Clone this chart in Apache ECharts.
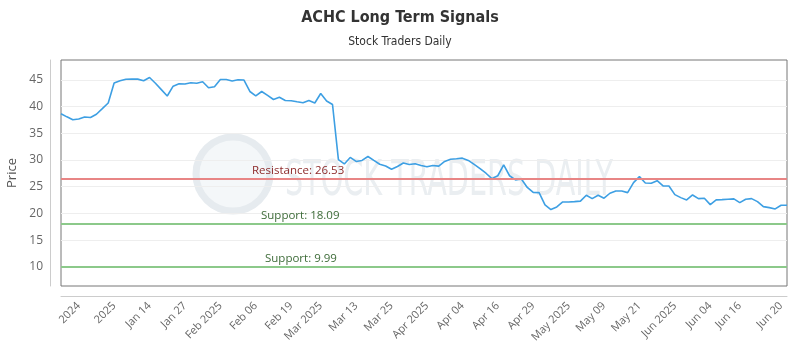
<!DOCTYPE html>
<html lang="en">
<head>
    <meta charset="UTF-8">
    <title>ACHC Long Term Signals</title>
    <script src="https://cdn.jsdelivr.net/npm/echarts@6/dist/echarts.min.js"></script>
    <style>
        html, body { margin: 0; padding: 0; background: #fff; }
        #main { width: 800px; height: 350px; }
    </style>
</head>
<body>
<div id="main"></div>
<script type="text/javascript">
  // daily closes
  var prices = [38.69, 38.10, 37.55, 37.70, 38.07, 37.98, 38.58, 39.63, 40.70, 44.44,
    44.87, 45.15, 45.17, 45.17, 44.87, 45.47, 44.40, 43.20, 42.00, 43.84,
    44.31, 44.25, 44.49, 44.40, 44.68, 43.54, 43.75, 45.09, 45.09, 44.81,
    45.04, 45.00, 42.85, 42.04, 42.85, 42.12, 41.35, 41.76, 41.16, 41.12,
    40.92, 40.73, 41.16, 40.69, 42.47, 41.07, 40.41, 30.09, 29.27, 30.49,
    29.74, 29.93, 30.66, 29.93, 29.21, 28.90, 28.28, 28.80, 29.46, 29.18,
    29.31, 28.99, 28.75, 28.99, 28.86, 29.74, 30.15, 30.24, 30.36, 29.93,
    29.18, 28.39, 27.53, 26.52, 27.06, 29.08, 27.06, 26.27, 26.46, 24.87,
    23.93, 23.90, 21.59, 20.73, 21.22, 22.15, 22.15, 22.21, 22.30, 23.41,
    22.77, 23.41, 22.85, 23.78, 24.21, 24.21, 23.90, 25.77, 26.89, 25.71,
    25.66, 26.14, 25.15, 25.15, 23.52, 22.96, 22.53, 23.46, 22.77, 22.85,
    21.65, 22.53, 22.58, 22.66, 22.72, 22.02, 22.66, 22.77, 22.21, 21.27,
    21.09, 20.84, 21.54, 21.54];

  var tickLabels = ['2024', '2025', 'Jan 14', 'Jan 27', 'Feb 2025', 'Feb 06', 'Feb 19', 'Mar 2025', 'Mar 13', 'Mar 25',
    'Apr 2025', 'Apr 04', 'Apr 16', 'Apr 29', 'May 2025', 'May 09', 'May 21', 'Jun 2025', 'Jun 04', 'Jun 16', 'Jun 20'];
  var tickIndex = [3, 9, 15, 21, 27, 33, 39, 44, 50, 56, 62, 68, 74, 80, 86, 92, 98, 104, 110, 115, 122];

  var yTicks = [10, 15, 20, 25, 30, 35, 40, 45];

  var resistance = 26.53;
  var supports = [18.09, 9.99];

  // category list: empty except where a tick label sits
  var cats = prices.map(function () { return ''; });
  tickIndex.forEach(function (idx, i) { cats[idx] = tickLabels[i]; });

  var lineFont = 'Open Sans';
  var condFont = "'DejaVu Sans Condensed', 'Liberation Sans Narrow', sans-serif";

  var marks = [{
    yAxis: resistance,
    lineStyle: {color: '#e88585', width: 2, type: 'solid'},
    label: {formatter: 'Resistance: ' + resistance, color: '#8e2b2b', padding: [0, 0, 0, 189]}
  }, {
    yAxis: supports[0],
    lineStyle: {color: '#8cc98a', width: 2, type: 'solid'},
    label: {formatter: 'Support: ' + supports[0], color: '#3d6b38', padding: [0, 0, 0, 198]}
  }, {
    yAxis: supports[1],
    lineStyle: {color: '#8cc98a', width: 2, type: 'solid'},
    label: {formatter: 'Support: ' + supports[1], color: '#3d6b38', padding: [0, 0, 0, 202]}
  }];

  var myChart = echarts.init(document.getElementById('main'));
  var option = {
    backgroundColor: '#fff',
    animation: false,
    title: {
      text: 'ACHC Long Term Signals',
      subtext: 'Stock Traders Daily',
      left: 'center',
      top: 5,
      itemGap: 10,
      textStyle: {fontFamily: condFont, fontWeight: 'bold', fontSize: 16, color: '#333'},
      subtextStyle: {fontFamily: condFont, fontSize: 12, color: '#333'}
    },
    graphic: [
      {
        type: 'circle',
        z: 0,
        shape: {cx: 233, cy: 174, r: 37},
        style: {fill: '#f4f7f9', stroke: '#e6ebef', lineWidth: 7}
      },
      {
        type: 'text',
        z: 0,
        x: 285,
        y: 158,
        scaleX: 0.65,
        style: {
          text: 'STOCK TRADERS DAILY',
          font: '49px ' + condFont,
          fill: '#eaeef1'
        }
      }
    ],
    grid: {
      left: 61,
      right: 13,
      top: 60,
      bottom: 64,
      containLabel: false,
      outerBoundsMode: 'none',
      show: true,
      borderColor: '#777',
      borderWidth: 1
    },
    xAxis: {
      type: 'category',
      data: cats,
      boundaryGap: false,
      offset: 10,
      axisLine: {lineStyle: {color: '#ccc'}},
      axisTick: {show: false},
      splitLine: {show: false},
      axisLabel: {
        interval: function (i, v) { return v !== ''; },
        rotate: 45,
        margin: 8,
        color: '#666',
        fontFamily: lineFont,
        fontSize: 11
      }
    },
    yAxis: {
      type: 'value',
      min: 6.4,
      max: 48.75,
      offset: 11,
      name: 'Price',
      nameLocation: 'middle',
      nameGap: 27,
      nameRotate: 90,
      nameTextStyle: {color: '#555', fontFamily: lineFont, fontSize: 13},
      axisLine: {show: true, lineStyle: {color: '#ccc'}},
      axisTick: {show: false, customValues: yTicks},
      axisLabel: {customValues: yTicks, color: '#666', fontFamily: lineFont, fontSize: 12, margin: 7},
      splitLine: {lineStyle: {color: '#eeeeee'}}
    },
    series: [{
      name: 'ACHC',
      type: 'line',
      data: prices,
      showSymbol: false,
      z: 3,
      lineStyle: {color: '#3d9fe3', width: 1.6},
      itemStyle: {color: '#3d9fe3'},
      markLine: {
        silent: true,
        symbol: 'none',
        label: {position: 'insideStartTop', distance: 2, fontFamily: lineFont, fontSize: 11.5},
        data: marks
      }
    }]
  };
  myChart.setOption(option);

  window.addEventListener('resize', function () {
    myChart.resize();
  });
</script>
</body>
</html>
